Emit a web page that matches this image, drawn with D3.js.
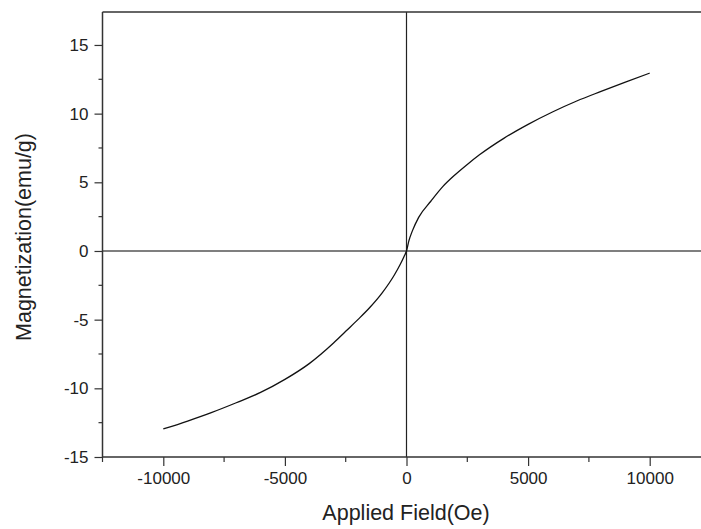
<!DOCTYPE html>
<html><head><meta charset="utf-8">
<script src="https://cdn.jsdelivr.net/npm/d3@7"></script>
<style>body{margin:0;background:#fff}svg{display:block}</style>
</head><body>
<svg id="c" width="701" height="529"></svg>
<script>
const fieldOe = [-10000,-9000,-8000,-7000,-6000,-5000,-4000,-3000,-2500,-2000,-1500,-1000,-500,-250,-100,0,100,250,500,1000,1500,2000,2500,3000,4000,5000,6000,7000,8000,9000,10000];
const magnetization = [-12.96,-12.38,-11.75,-11.05,-10.3,-9.35,-8.2,-6.7,-5.85,-5.0,-4.1,-3.05,-1.75,-0.95,-0.4,0,0.75,1.5,2.45,3.62,4.7,5.55,6.3,7.0,8.2,9.22,10.12,10.92,11.62,12.3,12.95];
const xTicks = [-10000,-5000,0,5000,10000];
const yTicks = [-15,-10,-5,0,5,10,15];
const xLabel = "Applied Field(Oe)";
const yLabel = "Magnetization(emu/g)";

const svg = d3.select("#c");
const L = 102.5, T = 12, B = 457;
const x = d3.scaleLinear().domain([-12500, 12500]).range([L, 710.5]);
const y = d3.scaleLinear().domain([-15, 17.4]).range([B, T]);

const font = "'Liberation Sans', Arial, sans-serif";
const axisCol = "#333";

// zero lines
svg.append("line").attr("x1", L).attr("x2", 701).attr("y1", y(0)).attr("y2", y(0))
  .attr("stroke", "#000").attr("stroke-width", 1.2);
svg.append("line").attr("x1", x(0)).attr("x2", x(0)).attr("y1", T).attr("y2", B)
  .attr("stroke", "#222").attr("stroke-width", 1.2);

// top border
svg.append("line").attr("x1", L).attr("x2", 701).attr("y1", T).attr("y2", T)
  .attr("stroke", axisCol).attr("stroke-width", 1.5);

// x axis
const xMinor = d3.range(-12500, 12501, 2500).filter(v => !xTicks.includes(v));
const gx = svg.append("g").attr("transform", `translate(0,${B})`);
gx.call(d3.axisBottom(x).tickValues(xTicks).tickSize(9).tickPadding(6).tickFormat(d => String(d)));
gx.append("g").selectAll("line").data(xMinor).join("line")
  .attr("x1", d => x(d)).attr("x2", d => x(d)).attr("y1", 0).attr("y2", 5)
  .attr("stroke", axisCol).attr("stroke-width", 1.2);

// y axis
const yMinor = d3.range(-12.5, 17, 5);
const gy = svg.append("g").attr("transform", `translate(${L},0)`);
gy.call(d3.axisLeft(y).tickValues(yTicks).tickSize(8).tickPadding(6).tickFormat(d => String(d)));
gy.append("g").selectAll("line").data(yMinor).join("line")
  .attr("y1", d => y(d)).attr("y2", d => y(d)).attr("x1", 0).attr("x2", -4)
  .attr("stroke", axisCol).attr("stroke-width", 1.2);

[gx, gy].forEach(g => {
  g.select(".domain").attr("stroke", axisCol).attr("stroke-width", 1.5);
  g.selectAll(".tick line").attr("stroke", axisCol).attr("stroke-width", 1.2);
  g.selectAll(".tick text").attr("font-family", font).attr("font-size", 17).attr("fill", "#222");
});
gx.select(".domain").attr("d", `M${L},0H701`);
gy.select(".domain").attr("d", `M0,${T}V${B}`);

// curve
svg.append("path").datum(fieldOe.map((h, i) => [h, magnetization[i]]))
  .attr("fill", "none").attr("stroke", "#111").attr("stroke-width", 1.3)
  .attr("d", d3.line().x(d => x(d[0])).y(d => y(d[1])).curve(d3.curveMonotoneX));

// labels
svg.append("text").attr("x", 406).attr("y", 520).attr("text-anchor", "middle")
  .attr("font-family", font).attr("font-size", 21.5).attr("fill", "#222").text(xLabel);
svg.append("text").attr("transform", "translate(31,237) rotate(-90)").attr("text-anchor", "middle")
  .attr("font-family", font).attr("font-size", 21.5).attr("fill", "#222").text(yLabel);
</script>
</body></html>
